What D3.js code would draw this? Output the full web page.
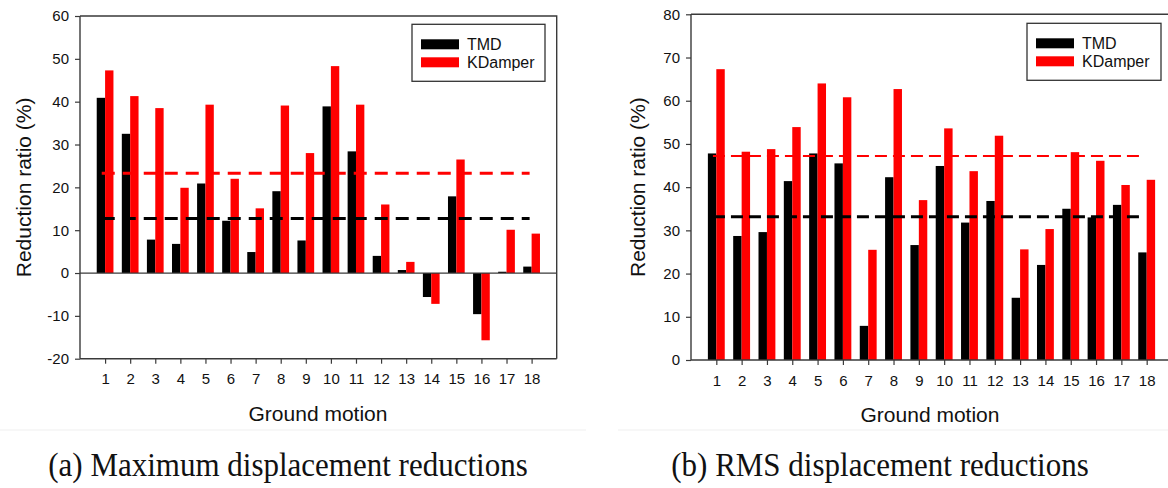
<!DOCTYPE html>
<html>
<head>
<meta charset="utf-8">
<script src="https://cdn.jsdelivr.net/npm/d3@7"></script>
<style>
  html, body { margin: 0; padding: 0; background: #fff; }
  svg { display: block; }
</style>
</head>
<body>
<svg id="chart" width="1168" height="488"></svg>
<script>
// ---- data ----
const groundMotions = [1,2,3,4,5,6,7,8,9,10,11,12,13,14,15,16,17,18];
const seriesNames = ["TMD", "KDamper"];

// (a) Maximum displacement reductions (%)
const maxTMD     = [40.9, 32.5, 7.8, 6.8, 20.9, 12.2, 4.9, 19.1, 7.6, 38.9, 28.4, 4.0, 0.7, -5.6, 17.9, -9.6, 0.3, 1.5];
const maxKDamper = [47.3, 41.3, 38.5, 19.9, 39.3, 22.0, 15.1, 39.1, 28.0, 48.3, 39.3, 16.0, 2.6, -7.2, 26.5, -15.7, 10.1, 9.2];

// (b) RMS displacement reductions (%)
const rmsTMD     = [47.8, 28.7, 29.6, 41.4, 47.8, 45.5, 7.9, 42.3, 26.6, 44.9, 31.8, 36.8, 14.4, 22.0, 35.0, 33.0, 35.9, 24.9];
const rmsKDamper = [67.3, 48.2, 48.8, 53.9, 64.0, 60.8, 25.5, 62.7, 37.0, 53.6, 43.7, 51.9, 25.6, 30.3, 48.1, 46.1, 40.5, 41.7];

const yTicksA = [-20, -10, 0, 10, 20, 30, 40, 50, 60];
const yTicksB = [0, 10, 20, 30, 40, 50, 60, 70, 80];

const captionA = "(a) Maximum displacement reductions";
const captionB = "(b) RMS displacement reductions";
const yLabel = "Reduction ratio (%)";
const xLabel = "Ground motion";

// ---- drawing ----
const svg = d3.select("#chart");
const colors = { TMD: "#000000", KDamper: "#ff0000" };
const axisColor = "#3a3a3a";
const sans = "'Liberation Sans', Arial, sans-serif";

// faint panel separators
svg.append("line").attr("x1", 0).attr("x2", 586).attr("y1", 430).attr("y2", 430)
  .attr("stroke", "#efefef").attr("stroke-width", 1);
svg.append("line").attr("x1", 618).attr("x2", 1168).attr("y1", 430).attr("y2", 430)
  .attr("stroke", "#efefef").attr("stroke-width", 1);

function panel(cfg) {
  const g = svg.append("g");
  const x = d3.scaleLinear().domain([0, groundMotions.length + 1]).range([cfg.left, cfg.right]);
  const y = d3.scaleLinear().domain(cfg.yDomain).range([cfg.bottom, cfg.top]);
  const slot = x(1) - x(0);
  const bw = slot / 3;

  // bars
  const series = [cfg.tmd, cfg.kd];
  series.forEach((vals, si) => {
    g.append("g").selectAll("rect").data(vals).join("rect")
      .attr("x", (d, i) => x(groundMotions[i]) + (si === 0 ? -bw : 0))
      .attr("width", bw)
      .attr("y", d => Math.min(y(d), y(0)))
      .attr("height", d => Math.abs(y(d) - y(0)))
      .attr("fill", colors[seriesNames[si]]);
  });

  // mean reference lines
  const means = [d3.mean(cfg.tmd), d3.mean(cfg.kd)];
  [1, 0].forEach(si => {
    g.append("line")
      .attr("x1", x(groundMotions[0]) - bw * 0.4)
      .attr("x2", x(groundMotions[groundMotions.length - 1]) - 2)
      .attr("y1", y(means[si])).attr("y2", y(means[si]))
      .attr("stroke", colors[seriesNames[si]])
      .attr("stroke-width", cfg.dashW[si])
      .attr("stroke-dasharray", cfg.dash);
  });

  // zero line
  if (cfg.yDomain[0] < 0) {
    g.append("line").attr("x1", x(0)).attr("x2", x(groundMotions.length + 1))
      .attr("y1", y(0)).attr("y2", y(0))
      .attr("stroke", axisColor).attr("stroke-width", 1.2);
  }

  // frame (top/right)
  g.append("path")
    .attr("d", `M${cfg.left},${cfg.top}H${cfg.right}V${cfg.bottom}`)
    .attr("fill", "none").attr("stroke", axisColor).attr("stroke-width", 1.4);

  // axes
  const fmt = d => String(d);
  const yAxis = d3.axisLeft(y).tickValues(cfg.yTicks).tickSize(5).tickPadding(6).tickFormat(fmt);
  const xAxis = d3.axisBottom(x).tickValues(groundMotions).tickSize(5).tickPadding(10).tickFormat(fmt);
  const ya = g.append("g").attr("transform", `translate(${cfg.left},0)`).call(yAxis);
  const xa = g.append("g").attr("transform", `translate(0,${cfg.bottom})`).call(xAxis);
  [ya, xa].forEach(a => {
    a.select(".domain").attr("stroke", axisColor).attr("stroke-width", 1.4);
    a.selectAll(".tick line").attr("stroke", axisColor).attr("stroke-width", 1.2);
    a.selectAll(".tick text").attr("fill", "#111").attr("font-family", sans).attr("font-size", 15);
  });
  ya.select(".domain").attr("d", `M0,${cfg.top}V${cfg.bottom}`);
  xa.select(".domain").attr("d", `M${cfg.left},0H${cfg.right}`);

  // axis labels
  g.append("text")
    .attr("transform", `translate(${cfg.yLabelX},${(cfg.top + cfg.bottom) / 2}) rotate(-90)`)
    .attr("text-anchor", "middle").attr("dominant-baseline", "central")
    .attr("font-family", sans).attr("font-size", 21).attr("fill", "#111")
    .text(yLabel);
  g.append("text")
    .attr("x", cfg.xLabelX).attr("y", cfg.bottom + 62)
    .attr("text-anchor", "middle")
    .attr("font-family", sans).attr("font-size", 21).attr("fill", "#111")
    .text(xLabel);

  // legend
  const lg = g.append("g");
  lg.append("rect").attr("x", cfg.legend.x).attr("y", cfg.legend.y)
    .attr("width", cfg.legend.w).attr("height", 57)
    .attr("fill", "#fff").attr("stroke", "#333").attr("stroke-width", 1.3);
  seriesNames.forEach((name, i) => {
    const yy = cfg.legend.y + 15 + i * 18;
    lg.append("rect").attr("x", cfg.legend.x + 9).attr("y", yy)
      .attr("width", 38).attr("height", 10).attr("fill", colors[name]);
    lg.append("text").attr("x", cfg.legend.x + 55).attr("y", yy + 5)
      .attr("dominant-baseline", "central")
      .attr("font-family", sans).attr("font-size", 16).attr("fill", "#111")
      .text(name);
  });

  // caption (slightly tall, condensed look of the original)
  g.append("text")
    .attr("transform", `translate(${cfg.captionX},476) scale(1,1.12)`)
    .attr("text-anchor", "middle")
    .attr("font-family", "'Liberation Serif', 'Times New Roman', serif")
    .attr("font-size", 31).attr("fill", "#111")
    .text(cfg.caption);
}

panel({
  left: 80, right: 556.7, top: 16, bottom: 358.7,
  yDomain: [-20, 60], yTicks: yTicksA,
  tmd: maxTMD, kd: maxKDamper,
  dash: "13,8", dashW: [3, 3],
  yLabelX: 23, xLabelX: 318,
  legend: { x: 412, y: 24.3, w: 133 },
  caption: captionA, captionX: 288
});

panel({
  left: 691, right: 1172, top: 14.3, bottom: 360,
  yDomain: [0, 80], yTicks: yTicksB,
  tmd: rmsTMD, kd: rmsKDamper,
  dash: "12,6", dashW: [3, 2.2],
  yLabelX: 637, xLabelX: 930,
  legend: { x: 1027, y: 23.3, w: 134 },
  caption: captionB, captionX: 880
});
</script>
</body>
</html>
